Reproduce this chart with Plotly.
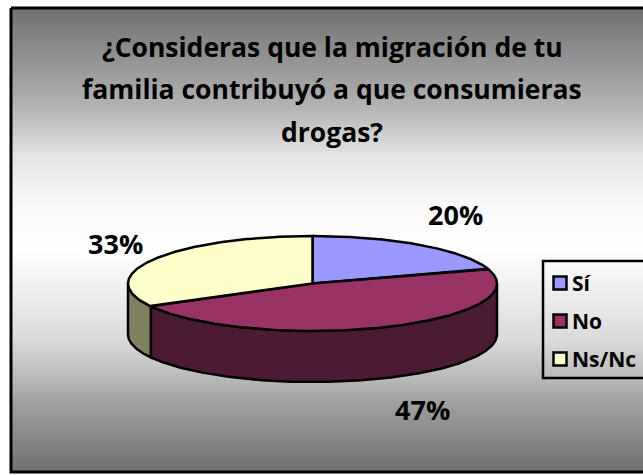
import numpy as np
import plotly.graph_objects as go

# Survey results
categories = ["Sí", "No", "Ns/Nc"]
shares = [20, 47, 33]
top_colors = ["#9999FF", "#993366", "#FFFFCC"]
side_colors = ["#4D4D80", "#4B1A33", "#80805F"]
title_lines = [
    "¿Consideras que la migración de tu",
    "familia contribuyó a que consumieras",
    "drogas?",
]
label_positions = [(455, 214), (422, 409), (115, 243)]
title_rows = [47, 89, 132]
legend_rows = [283, 321, 359]

# Panel shading: vertical position and grey level at that position
shade_rows = [8, 108, 158, 208, 250, 340, 380, 400, 472]
shade_greys = ["#707070", "#B4B4B4", "#E6E6E6", "#FAFAFA", "#FFFFFF",
               "#DADADA", "#B8B8B8", "#A2A2A2", "#707070"]

# Disc geometry on a pixel-sized plotting area
CX, CY, RX, RY, DEPTH = 312.5, 283.5, 184.5, 47.5, 51
WIDTH, HEIGHT = 643, 475
FONT = "Open Sans"


def rim(a0, a1, dy=0.0):
    """Points along the disc edge, angles clockwise from 12 o'clock in degrees."""
    t = np.radians(np.linspace(a0, a1, max(int(abs(a1 - a0)) * 2, 2)))
    return CX + RX * np.sin(t), CY - RY * np.cos(t) + dy


fig = go.Figure()

# Panel with a grey-white-grey vertical gradient
top, bottom = shade_rows[0], shade_rows[-1]
fig.add_trace(go.Scatter(
    x=[11, 670, 670, 11, 11], y=[top, top, bottom, bottom, top],
    mode="lines", fill="toself",
    line=dict(color="black", width=3),
    fillgradient=dict(
        type="vertical", start=top, stop=bottom,
        colorscale=[[(r - top) / (bottom - top), g]
                    for r, g in zip(shade_rows, shade_greys)],
    ),
    hoverinfo="skip", showlegend=False,
))

edges = np.concatenate([[0], np.cumsum(shares)]) * 3.6

# Visible front wall, limited to the lower half of the rim
for a0, a1, col in zip(edges[:-1], edges[1:], side_colors):
    lo, hi = max(a0, 90), min(a1, 270)
    if hi <= lo:
        continue
    xt, yt = rim(lo, hi)
    xb, yb = rim(hi, lo, DEPTH)
    fig.add_trace(go.Scatter(
        x=np.r_[xt, xb, xt[0]], y=np.r_[yt, yb, yt[0]],
        mode="lines", fill="toself", fillcolor=col,
        line=dict(color="black", width=2.5),
        hoverinfo="skip", showlegend=False,
    ))

# Top face wedges
for a0, a1, col in zip(edges[:-1], edges[1:], top_colors):
    xr, yr = rim(a0, a1)
    fig.add_trace(go.Scatter(
        x=np.r_[CX, xr, CX], y=np.r_[CY, yr, CY],
        mode="lines", fill="toself", fillcolor=col,
        line=dict(color="black", width=2.5),
        hoverinfo="skip", showlegend=False,
    ))

# Key swatches
fig.add_trace(go.Scatter(
    x=[560] * len(categories), y=legend_rows, mode="markers",
    marker=dict(symbol="square", size=13, color=top_colors,
                line=dict(color="black", width=2.5)),
    hoverinfo="skip", showlegend=False,
))

annotations = [
    dict(x=332, y=row, text=f"<b>{line}</b>", showarrow=False,
         font=dict(size=26.5))
    for line, row in zip(title_lines, title_rows)
]
annotations += [
    dict(x=p[0], y=p[1], text=f"<b>{v}%</b>", showarrow=False,
         font=dict(size=27))
    for v, p in zip(shares, label_positions)
]
annotations += [
    dict(x=570, y=row, text=f"<b>{name}</b>", showarrow=False, xanchor="left",
         font=dict(size=21))
    for name, row in zip(categories, legend_rows)
]

fig.update_layout(
    width=WIDTH, height=HEIGHT,
    margin=dict(l=0, r=0, t=0, b=0),
    paper_bgcolor="white", plot_bgcolor="white",
    font=dict(family=FONT, color="black"),
    xaxis=dict(range=[0, WIDTH], visible=False, fixedrange=True),
    yaxis=dict(range=[HEIGHT, 0], visible=False, fixedrange=True),
    annotations=annotations,
    shapes=[dict(type="rect", xref="x", yref="y", x0=543, x1=670, y0=261, y1=378,
                 line=dict(color="black", width=2.5), layer="above")],
    showlegend=False,
)

fig.write_html("out.html", config=dict(displayModeBar=False))
